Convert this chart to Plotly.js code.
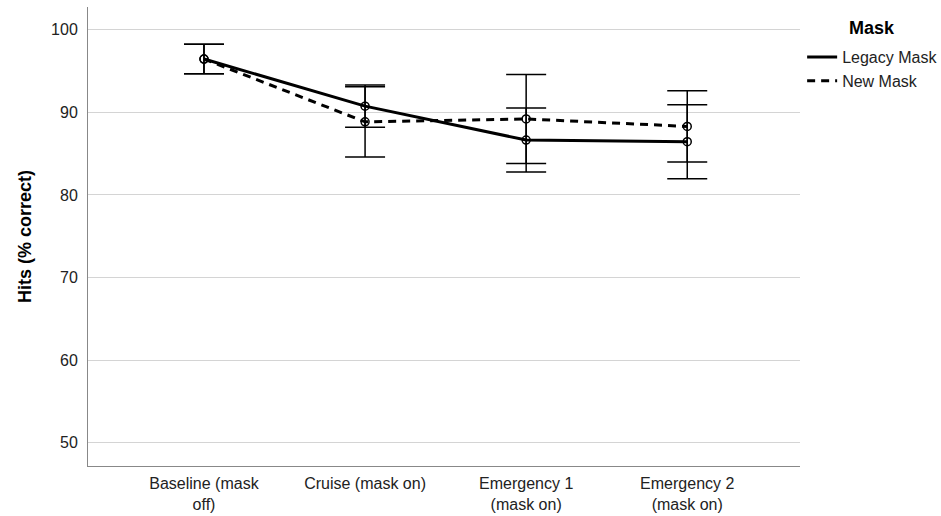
<!DOCTYPE html>
<html>
<head>
<meta charset="utf-8">
<script src="https://cdn.plot.ly/plotly-3.0.1.min.js"></script>
<style>html,body{margin:0;padding:0;background:#fff;}#chart{width:941px;height:516px;}</style>
</head>
<body>
<div id="chart"></div>
<script>
const categories = ["Baseline (mask<br>off)", "Cruise (mask on)", "Emergency 1<br>(mask on)", "Emergency 2<br>(mask on)"];
const seriesNames = ["Legacy Mask", "New Mask"];
const legacyMeans = [96.45, 90.75, 86.65, 86.45];
const legacyErr = [1.78, 2.55, 3.87, 4.48];
const newMeans = [96.45, 88.85, 89.2, 88.3];
const newErr = [1.78, 4.25, 5.38, 4.31];
const yTicks = [50, 60, 70, 80, 90, 100];

const xIdx = categories.map((c, i) => i);

function trace(name, means, errs, dash) {
  return {
    type: 'scatter', mode: 'lines+markers', name: name, showlegend: false,
    x: xIdx, y: means,
    line: {color: '#000', width: 3, dash: dash},
    marker: {symbol: 'circle-open', size: 8, color: '#000', line: {width: 1.5, color: '#000'}},
    error_y: {type: 'data', array: errs, visible: true, color: '#000', thickness: 1.5, width: 20},
    cliponaxis: false
  };
}
function legendEntry(name, dash) {
  return {
    type: 'scatter', mode: 'lines', name: name, x: [null], y: [null],
    line: {color: '#000', width: 3, dash: dash}, hoverinfo: 'skip'
  };
}

const data = [
  trace(seriesNames[1], newMeans, newErr, '8px,6px'),
  trace(seriesNames[0], legacyMeans, legacyErr, 'solid'),
  legendEntry(seriesNames[0], 'solid'),
  legendEntry(seriesNames[1], '8px,6px')
];

const layout = {
  width: 941, height: 516,
  margin: {l: 88, r: 141, t: 7, b: 50, autoexpand: false},
  paper_bgcolor: '#fff', plot_bgcolor: '#fff',
  font: {family: 'Liberation Sans, Arial, sans-serif', size: 16, color: '#222'},
  showlegend: true,
  legend: {x: 1.003, xanchor: 'left', y: 0.928, yanchor: 'top', traceorder: 'normal',
    font: {size: 16, color: '#222'}, bgcolor: 'rgba(0,0,0,0)', tracegroupgap: 0},
  xaxis: {
    type: 'linear', range: [-0.72, 3.70],
    tickmode: 'array', tickvals: xIdx, ticktext: categories,
    showgrid: false, zeroline: false, showline: true, linecolor: '#888', linewidth: 1,
    ticks: '', ticklabelstandoff: 3, tickfont: {size: 16, color: '#222'}
  },
  yaxis: {
    range: [47.2, 102.75],
    tickmode: 'array', tickvals: yTicks,
    showgrid: true, gridcolor: '#d4d4d4', gridwidth: 1, zeroline: false,
    showline: true, linecolor: '#888', linewidth: 1,
    ticks: '', ticklabelstandoff: 6, tickfont: {size: 16, color: '#222'},
    title: {text: 'Hits (% correct)', font: {size: 18, color: '#000', weight: 'bold'}, standoff: 14}
  },
  annotations: [{
    text: '<b>Mask</b>', xref: 'paper', yref: 'paper', x: 1.101, y: 0.955,
    xanchor: 'center', yanchor: 'middle', showarrow: false,
    font: {size: 18, color: '#000'}
  }]
};

Plotly.newPlot('chart', data, layout, {displayModeBar: false, staticPlot: true});
</script>
</body>
</html>
